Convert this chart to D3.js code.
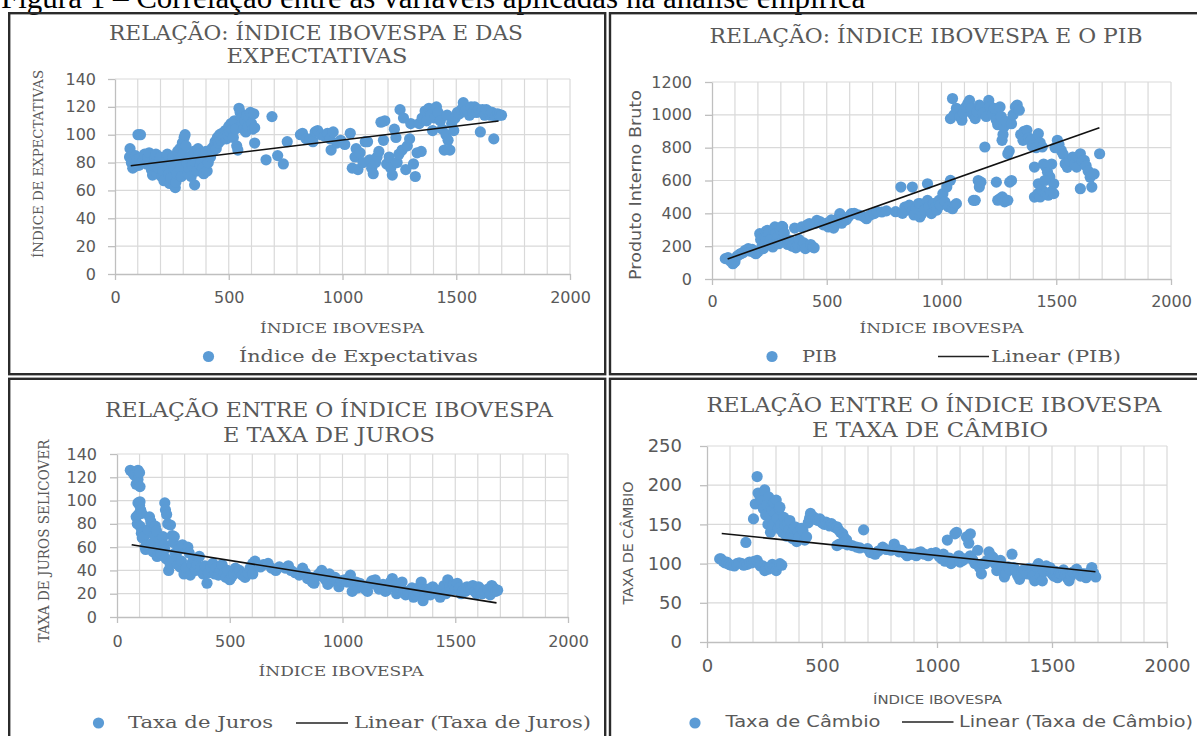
<!DOCTYPE html>
<html><head><meta charset="utf-8">
<script src="https://cdn.jsdelivr.net/npm/d3@7"></script>
<style>body{margin:0;background:#fff;}svg{display:block;}</style>
</head><body>
<svg id="c" width="1197" height="736"></svg>
<script>
// ---------------- DATA ----------------
const caption = "Figura 1 – Correlação entre as variáveis aplicadas na análise empírica";
const ibovTicks = [0, 500, 1000, 1500, 2000];
const expTicks = [0, 20, 40, 60, 80, 100, 120, 140];
const pibTicks = [0, 200, 400, 600, 800, 1000, 1200];
const jurosTicks = [0, 20, 40, 60, 80, 100, 120, 140];
const cambioTicks = [0, 50, 100, 150, 200, 250];

const expectativas = [[66,90],[64,84],[72,80],[78,76],[85,77],[90,85],[95,82],[101,100],[112,100],[105,78],[110,83],[118,80],[125,82],[130,86],[138,79],[145,84],[150,87],[155,80],[160,75],[165,71],[170,78],[175,83],[180,86],[185,72],[190,76],[195,80],[200,84],[205,70],[210,74],[215,67],[220,78],[225,82],[230,86],[235,72],[240,65],[245,69],[250,80],[255,84],[260,76],[265,62],[268,66],[272,72],[275,88],[280,82],[285,90],[288,76],[292,70],[296,94],[300,86],[304,98],[308,100],[312,92],[316,80],[320,72],[325,76],[330,84],[335,70],[340,78],[345,88],[350,64],[355,80],[360,74],[365,90],[370,86],[375,78],[380,82],[385,76],[390,72],[395,84],[400,88],[405,74],[410,80],[415,86],[420,84],[425,90],[430,88],[435,92],[440,95],[445,90],[450,98],[455,94],[460,100],[465,96],[470,101],[478,98],[485,103],[490,97],[495,100],[500,106],[505,102],[510,108],[515,104],[520,98],[525,110],[530,104],[535,92],[540,89],[545,119],[550,116],[555,112],[560,108],[565,104],[570,110],[575,102],[580,114],[585,106],[590,112],[595,116],[600,108],[605,104],[610,115],[614,105],[614,94],[664,82],[690,113],[715,85],[740,79],[757,95],[815,100],[824,101],[840,97],[858,97],[870,95],[880,102],[891,103],[905,100],[920,99],[934,101],[945,97],[950,89],[959,102],[975,94],[992,96],[1010,93],[1034,101],[1043,76],[1055,84],[1060,90],[1068,75],[1077,87],[1090,80],[1100,95],[1110,95],[1120,82],[1128,76],[1135,72],[1145,80],[1152,84],[1160,88],[1169,109],[1180,96],[1186,110],[1194,79],[1205,84],[1212,76],[1219,71],[1228,104],[1235,98],[1240,80],[1248,86],[1253,118],[1262,89],[1268,112],[1278,75],[1285,92],[1295,97],[1300,108],[1312,79],[1320,70],[1328,87],[1337,108],[1346,88],[1350,112],[1363,117],[1370,110],[1380,119],[1388,114],[1396,103],[1405,112],[1413,120],[1420,116],[1430,110],[1438,104],[1447,89],[1455,100],[1460,114],[1464,96],[1472,89],[1480,108],[1489,103],[1495,112],[1505,116],[1514,115],[1522,118],[1531,123],[1540,117],[1548,118],[1558,114],[1565,120],[1572,116],[1581,120],[1590,116],[1598,118],[1606,102],[1615,118],[1625,114],[1632,118],[1640,117],[1650,114],[1658,116],[1665,97],[1672,113],[1682,115],[1690,114],[1699,114]];

const pib = [[58,124],[70,130],[80,110],[91,93],[100,105],[110,140],[120,150],[125,154],[135,160],[145,175],[158,185],[165,170],[175,180],[185,160],[191,154],[200,165],[208,276],[212,240],[218,200],[224,185],[230,260],[235,290],[241,296],[248,280],[255,240],[260,210],[265,195],[270,300],[274,317],[280,280],[285,250],[291,215],[298,300],[305,320],[308,317],[315,280],[320,240],[330,210],[341,235],[350,200],[360,310],[365,190],[374,205],[380,240],[391,317],[395,200],[400,220],[407,185],[415,330],[424,337],[430,210],[440,195],[445,190],[450,340],[457,357],[470,350],[485,330],[500,340],[507,317],[520,360],[530,310],[540,337],[550,370],[557,398],[565,340],[574,357],[585,360],[595,380],[607,398],[620,400],[640,390],[660,380],[673,367],[690,390],[707,398],[720,410],[740,408],[760,415],[800,410],[823,560],[830,400],[840,438],[850,420],[860,450],[873,418],[873,560],[880,390],[890,430],[900,460],[906,459],[906,378],[915,400],[925,420],[939,479],[939,580],[945,440],[956,398],[965,460],[973,438],[980,420],[989,479],[995,450],[1006,520],[1015,470],[1023,560],[1030,440],[1039,601],[1048,428],[1058,450],[1065,459],[1048,1099],[1039,977],[1055,1000],[1065,1040],[1072,1028],[1080,990],[1089,967],[1095,1010],[1106,1048],[1115,1070],[1122,1088],[1130,1040],[1138,1000],[1147,977],[1155,1020],[1165,1060],[1172,1048],[1180,1010],[1189,804],[1195,990],[1206,1088],[1212,1050],[1222,1007],[1230,1040],[1239,967],[1245,940],[1255,1048],[1260,990],[1264,845],[1268,880],[1272,926],[1280,960],[1289,763],[1295,780],[1305,946],[1312,1000],[1322,1048],[1330,1060],[1339,1028],[1345,880],[1355,845],[1360,900],[1372,906],[1380,860],[1389,845],[1395,810],[1405,682],[1412,800],[1422,885],[1430,830],[1439,804],[1445,700],[1455,682],[1462,650],[1472,621],[1480,700],[1489,580],[1495,800],[1505,845],[1512,820],[1522,783],[1530,760],[1539,702],[1548,680],[1558,720],[1572,743],[1580,700],[1589,682],[1598,740],[1605,763],[1612,720],[1622,723],[1630,690],[1639,658],[1648,620],[1655,560],[1665,640],[1689,763],[1605,550],[1139,479],[1147,479],[1160,600],[1165,560],[1172,590],[1239,590],[1245,480],[1255,489],[1265,500],[1275,470],[1289,479],[1297,590],[1305,600],[1405,499],[1420,520],[1430,500],[1440,540],[1455,520],[1465,510],[1475,530],[1489,520],[1422,580],[1450,600]];

const juros = [[59,126],[70,124],[76,122],[85,114],[93,126],[93,118],[100,124],[102,112],[93,98],[100,96],[102,99],[105,92],[85,86],[90,80],[95,88],[110,89],[102,78],[108,72],[112,68],[119,69],[125,60],[127,58],[132,62],[138,75],[144,86],[150,82],[153,63],[160,56],[165,70],[170,78],[175,74],[178,52],[185,60],[190,66],[195,55],[204,69],[210,62],[212,98],[215,92],[220,88],[225,80],[212,58],[218,50],[229,40],[235,46],[237,79],[245,70],[250,64],[254,69],[258,55],[263,52],[268,45],[275,58],[280,43],[286,48],[290,62],[297,37],[305,42],[314,60],[320,55],[325,36],[331,46],[340,50],[348,40],[355,45],[365,52],[372,42],[382,37],[390,44],[399,29],[405,38],[416,43],[425,46],[433,37],[440,42],[450,36],[458,40],[466,45],[475,38],[483,34],[490,40],[500,32],[510,35],[517,37],[525,42],[535,38],[543,40],[555,36],[568,34],[580,38],[590,42],[602,37],[602,46],[612,48],[625,44],[636,43],[650,45],[670,46],[685,42],[704,40],[720,43],[746,42],[760,44],[772,40],[790,38],[808,36],[823,42],[835,38],[845,33],[857,34],[866,30],[874,29],[885,35],[895,37],[908,40],[918,34],[925,32],[935,28],[942,37],[955,33],[967,34],[975,30],[984,26],[995,31],[1009,32],[1020,30],[1035,36],[1043,22],[1050,28],[1060,30],[1068,25],[1077,29],[1090,26],[1100,24],[1111,22],[1120,28],[1130,31],[1145,32],[1155,27],[1162,24],[1171,26],[1180,28],[1190,22],[1196,23],[1205,26],[1213,30],[1221,33],[1230,27],[1240,20],[1247,23],[1255,25],[1264,30],[1272,22],[1280,19],[1289,22],[1300,20],[1308,25],[1315,17],[1325,19],[1335,22],[1342,26],[1349,30],[1357,14],[1365,18],[1374,24],[1382,22],[1390,19],[1400,26],[1408,21],[1416,23],[1425,20],[1433,17],[1442,24],[1450,27],[1458,20],[1467,32],[1476,26],[1484,23],[1492,28],[1500,24],[1509,29],[1518,25],[1526,20],[1535,23],[1545,22],[1552,26],[1560,24],[1569,24],[1578,27],[1586,22],[1595,20],[1603,26],[1612,24],[1620,20],[1630,22],[1645,24],[1655,19],[1662,27],[1670,25],[1680,22],[1688,23]];

const cambio = [[55,106],[61,106],[70,103],[78,101],[86,102],[95,99],[105,98],[119,97],[130,100],[140,101],[152,100],[160,98],[169,127],[175,99],[185,102],[195,101],[205,103],[218,104],[225,100],[232,97],[243,97],[251,91],[258,94],[268,93],[275,96],[284,99],[293,95],[301,91],[308,97],[317,100],[325,98],[202,157],[210,176],[218,211],[222,190],[230,186],[235,189],[240,180],[245,170],[251,194],[255,162],[260,175],[265,150],[268,185],[272,160],[276,140],[280,172],[284,168],[288,150],[292,178],[296,165],[301,181],[305,158],[310,145],[314,170],[317,172],[322,150],[328,140],[334,159],[340,148],[345,135],[350,151],[355,142],[360,155],[367,138],[372,132],[378,145],[383,147],[390,128],[395,140],[400,134],[410,145],[417,142],[425,130],[433,134],[440,152],[446,158],[450,164],[458,160],[466,159],[475,156],[483,155],[491,157],[500,152],[510,150],[517,153],[525,151],[533,148],[541,151],[550,148],[558,146],[565,147],[572,143],[580,140],[590,138],[597,133],[607,130],[565,123],[575,125],[590,126],[610,124],[631,123],[650,121],[665,120],[681,143],[698,119],[710,114],[731,112],[745,116],[764,121],[780,118],[800,117],[814,125],[825,119],[835,115],[847,117],[860,113],[870,110],[885,112],[897,112],[910,110],[920,114],[930,115],[945,112],[962,110],[975,113],[995,114],[1010,109],[1020,106],[1028,112],[1035,103],[1045,130],[1055,107],[1061,100],[1070,103],[1078,138],[1085,140],[1095,110],[1100,102],[1111,104],[1120,106],[1128,134],[1138,126],[1145,138],[1145,110],[1155,105],[1165,100],[1177,117],[1185,95],[1193,87],[1200,100],[1210,100],[1218,104],[1226,115],[1235,110],[1243,108],[1252,100],[1260,91],[1268,96],[1276,104],[1285,94],[1293,83],[1300,88],[1310,96],[1318,92],[1326,112],[1334,95],[1342,91],[1350,85],[1359,80],[1368,88],[1376,92],[1384,90],[1392,87],[1400,94],[1408,88],[1416,84],[1425,78],[1433,96],[1441,100],[1450,85],[1458,78],[1466,90],[1475,97],[1483,93],[1491,95],[1500,87],[1508,84],[1516,90],[1524,82],[1532,88],[1540,87],[1550,92],[1558,85],[1566,82],[1574,78],[1582,84],[1590,89],[1598,90],[1607,93],[1615,88],[1624,84],[1632,87],[1640,87],[1648,82],[1656,86],[1665,89],[1673,95],[1681,88],[1690,83]];

// fitted linear trend endpoints
const trendExp = [[69,77.7],[1686,109.8]];
const trendPib = [[68,122],[1688,922]];
const trendJuros = [[65,62],[1683,12.1]];
const trendCambio = [[64,138.4],[1689,89.7]];

// ---------------- DRAW ----------------
const svg = d3.select('#c');
const GRID = '#d9d9d9', AXIS = '#bfbfbf', TXT = '#595959', DOT = '#5b9bd5';
const SERIF = '"DejaVu Serif", serif', SANS = '"DejaVu Sans", sans-serif';

function txt(g, s, x, y, o) {
  const t = g.append('text').attr('x', x).attr('y', y).text(s)
    .attr('font-family', o.font).attr('font-size', o.size)
    .attr('fill', o.fill || TXT).attr('text-anchor', o.anchor || 'middle');
  if (o.w) t.attr('textLength', o.w).attr('lengthAdjust', 'spacingAndGlyphs');
  if (o.rot) t.attr('transform', `rotate(-90,${x},${y})`);
  return t;
}

// caption (top cut off in the source image)
txt(svg, caption, 1, 8, {font: '"Liberation Serif", serif', size: 31, fill: '#000', anchor: 'start'});

// cell borders
const cells = [[9.2, 13.2, 596, 361], [610, 13.2, 600, 361], [9.2, 378.8, 596, 400], [610, 378.8, 600, 400]];
svg.append('g').selectAll('rect').data(cells).join('rect')
  .attr('x', d => d[0]).attr('y', d => d[1]).attr('width', d => d[2]).attr('height', d => d[3])
  .attr('fill', 'none').attr('stroke', '#2b2b2b').attr('stroke-width', 2.4);

function panel(p) {
  const g = svg.append('g');
  const ymax = d3.max(p.yTicks);
  const x = d3.scaleLinear().domain([0, 2000]).range([p.x0, p.x1]);
  const y = d3.scaleLinear().domain([0, ymax]).range([p.y0, p.y1]);
  // grid
  g.append('g').selectAll('line').data(d3.range(100, 2001, 100)).join('line')
    .attr('x1', d => x(d)).attr('x2', d => x(d)).attr('y1', y(ymax)).attr('y2', y(0))
    .attr('stroke', GRID).attr('stroke-width', 1.2);
  g.append('g').selectAll('line').data(p.yTicks.filter(d => d > 0)).join('line')
    .attr('x1', x(0)).attr('x2', x(2000)).attr('y1', d => y(d)).attr('y2', d => y(d))
    .attr('stroke', GRID).attr('stroke-width', 1.2);
  // axes
  const fmt = d3.format('d');
  const ax = g.append('g').attr('transform', `translate(0,${p.y0})`)
    .call(d3.axisBottom(x).tickValues(ibovTicks).tickFormat(fmt).tickSize(6).tickSizeOuter(0));
  const ay = g.append('g').attr('transform', `translate(${p.x0},0)`)
    .call(d3.axisLeft(y).tickValues(p.yTicks).tickFormat(fmt).tickSize(7).tickSizeOuter(0));
  [ax, ay].forEach(a => {
    a.select('.domain').attr('stroke', AXIS).attr('stroke-width', 1.3);
    a.selectAll('.tick line').attr('stroke', AXIS).attr('stroke-width', 1.3);
    a.selectAll('.tick text').attr('font-family', SANS).attr('font-size', p.tickSize).attr('fill', TXT);
  });
  ax.selectAll('.tick text').attr('dy', null).attr('y', p.xLabDy);
  ay.selectAll('.tick text').attr('x', -p.yLabDx);
  // points
  g.append('g').selectAll('circle').data(p.data).join('circle')
    .attr('cx', d => x(d[0])).attr('cy', d => y(d[1])).attr('r', 5.6).attr('fill', DOT);
  // trend
  g.append('path').datum(p.trend)
    .attr('d', d3.line().x(d => x(d[0])).y(d => y(d[1])))
    .attr('stroke', '#111').attr('stroke-width', 1.6).attr('fill', 'none');
  // titles and labels
  p.title.forEach(t => txt(g, t.s, t.cx, t.y, {font: SERIF, size: 20, w: t.w}));
  p.labels.forEach(t => txt(g, t.s, t.x, t.y, t));
  // legend symbols
  p.legend.forEach(l => {
    if (l.type === 'dot') g.append('circle').attr('cx', l.x).attr('cy', l.y).attr('r', 5.6).attr('fill', DOT);
    else g.append('line').attr('x1', l.x1).attr('x2', l.x2).attr('y1', l.y).attr('y2', l.y).attr('stroke', '#222').attr('stroke-width', 1.5);
  });
}

panel({
  data: expectativas, trend: trendExp, yTicks: expTicks,
  x0: 115, x1: 570, y0: 274, y1: 79, tickSize: 16, xLabDy: 29, yLabDx: 19,
  title: [{s: 'RELAÇÃO: ÍNDICE IBOVESPA E DAS', cx: 316, y: 40, w: 414},
          {s: 'EXPECTATIVAS', cx: 317, y: 63, w: 181}],
  labels: [
    {s: 'ÍNDICE IBOVESPA', x: 342, y: 333, font: SERIF, size: 13, w: 164},
    {s: 'ÍNDICE DE EXPECTATIVAS', x: 43, y: 164, font: SERIF, size: 13, w: 188, rot: true},
    {s: 'Índice de Expectativas', x: 239, y: 362, font: SERIF, size: 17, w: 239, anchor: 'start'}
  ],
  legend: [{type: 'dot', x: 208.5, y: 356.5}]
});

panel({
  data: pib, trend: trendPib, yTicks: pibTicks,
  x0: 712, x1: 1171, y0: 279, y1: 82, tickSize: 16, xLabDy: 28, yLabDx: 20,
  title: [{s: 'RELAÇÃO: ÍNDICE IBOVESPA E O PIB', cx: 926, y: 43, w: 433}],
  labels: [
    {s: 'ÍNDICE IBOVESPA', x: 941.5, y: 333, font: SERIF, size: 13, w: 164},
    {s: 'Produto Interno Bruto', x: 641, y: 185, font: SANS, size: 16, w: 190, rot: true},
    {s: 'PIB', x: 802, y: 362, font: SERIF, size: 17, w: 35, anchor: 'start'},
    {s: 'Linear (PIB)', x: 991, y: 362, font: SERIF, size: 17, w: 130, anchor: 'start'}
  ],
  legend: [{type: 'dot', x: 772, y: 356.5}, {type: 'line', x1: 938, x2: 989, y: 356.5}]
});

panel({
  data: juros, trend: trendJuros, yTicks: jurosTicks,
  x0: 117, x1: 568, y0: 617, y1: 454, tickSize: 16, xLabDy: 30, yLabDx: 20,
  title: [{s: 'RELAÇÃO ENTRE  O ÍNDICE IBOVESPA', cx: 329, y: 417, w: 448},
          {s: 'E TAXA DE JUROS', cx: 329, y: 442, w: 212}],
  labels: [
    {s: 'ÍNDICE IBOVESPA', x: 341, y: 676, font: SERIF, size: 13, w: 165},
    {s: 'TAXA DE JUROS SELICOVER', x: 49, y: 541, font: SERIF, size: 14, w: 203, rot: true},
    {s: 'Taxa de Juros', x: 128, y: 728, font: SERIF, size: 17, w: 145, anchor: 'start'},
    {s: 'Linear (Taxa de Juros)', x: 354, y: 728, font: SERIF, size: 17, w: 237, anchor: 'start'}
  ],
  legend: [{type: 'dot', x: 98.5, y: 723}, {type: 'line', x1: 296, x2: 348, y: 723}]
});

panel({
  data: cambio, trend: trendCambio, yTicks: cambioTicks,
  x0: 707, x1: 1167, y0: 642, y1: 446, tickSize: 18, xLabDy: 30, yLabDx: 25,
  title: [{s: 'RELAÇÃO ENTRE  O  ÍNDICE IBOVESPA', cx: 934, y: 412, w: 455},
          {s: 'E TAXA DE CÂMBIO', cx: 930, y: 437, w: 236}],
  labels: [
    {s: 'ÍNDICE IBOVESPA', x: 937.5, y: 704, font: SANS, size: 12, w: 129},
    {s: 'TAXA DE CÂMBIO', x: 633, y: 543, font: SANS, size: 14, w: 123, rot: true},
    {s: 'Taxa de Câmbio', x: 725.5, y: 727, font: SANS, size: 16, w: 155, anchor: 'start'},
    {s: 'Linear (Taxa de Câmbio)', x: 959, y: 727, font: SANS, size: 16, w: 234, anchor: 'start'}
  ],
  legend: [{type: 'dot', x: 695, y: 723}, {type: 'line', x1: 902, x2: 953.5, y: 722}]
});
</script>
</body></html>
